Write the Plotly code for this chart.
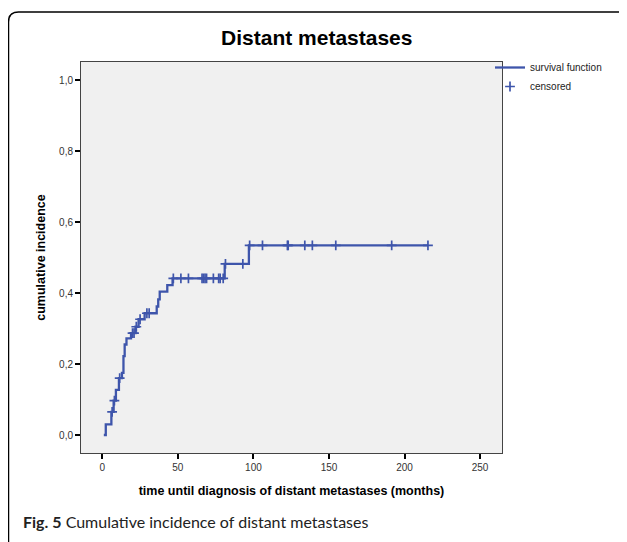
import numpy as np
import plotly.graph_objects as go

# ---- data ----
event_times = [1, 2.3, 6, 7.5, 9, 11, 13, 14, 14.8, 16, 19, 22, 24, 28, 36, 37, 38, 43, 46.5, 81, 97]
incidence = [0, 0.03, 0.065, 0.097, 0.127, 0.16, 0.175, 0.222, 0.255, 0.272, 0.287, 0.305, 0.326,
             0.343, 0.362, 0.382, 0.404, 0.422, 0.441, 0.482, 0.534]
censored_times = [6.5, 8, 11.5, 20, 21, 22.5, 25, 29.5, 31, 47, 52, 57, 66, 67, 68, 69, 73.5, 77, 78,
                  80, 81.5, 93, 97.5, 106, 122.5, 123, 134, 139, 154.5, 191.5, 215.5]
x_ticks = [0, 50, 100, 150, 200, 250]
y_ticks = [0.0, 0.2, 0.4, 0.6, 0.8, 1.0]
y_tick_labels = ["0,0", "0,2", "0,4", "0,6", "0,8", "1,0"]

# step line extends to the last follow-up time
end_time = max(censored_times)
step_x = event_times + [end_time]
step_y = incidence + [incidence[-1]]

# value of the step function at each censored time
idx = np.searchsorted(np.array(event_times), np.array(censored_times), side="right") - 1
cens_y = [incidence[i] for i in idx]

BLUE = "#3e55ab"
OFF = 8  # page body margin
W, H = 619, 534
# plot area in screen pixels: x 81..502, y 62..453
ML, MT = 81 - OFF, 62 - OFF
PW, PH = 502 - 81, 453 - 62
MR = W - ML - PW
MB = H - MT - PH


def px(x):
    return (x - OFF - ML) / PW


def py(y):
    return (MT + PH - (y - OFF)) / PH


fig = go.Figure()
fig.add_trace(go.Scatter(x=step_x, y=step_y, mode="lines", line=dict(color=BLUE, width=2.3, shape="hv"),
                         name="survival function"))
fig.add_trace(go.Scatter(x=censored_times, y=cens_y, mode="markers",
                         marker=dict(symbol="cross-thin", size=7, line=dict(color=BLUE, width=1.7), color=BLUE),
                         name="censored"))

# outer rounded frame
x0, y0 = px(8.5), py(12)
r, ry = 10 / PW, 10 / PH
x1, y1 = px(700), py(620)
path = f"M {x0},{y1} L {x0},{y0 - ry} Q {x0},{y0} {x0 + r},{y0} L {x1},{y0}"
fig.add_shape(type="path", path=path, xref="paper", yref="paper",
              line=dict(color="black", width=1.5), layer="below")

fig.update_layout(
    width=W, height=H,
    margin=dict(l=ML, r=MR, t=MT, b=MB),
    paper_bgcolor="white",
    plot_bgcolor="#f0f0f0",
    font=dict(family="Liberation Sans, Arial, sans-serif", color="black"),
    title=dict(text="<b>Distant metastases</b>", x=px(291), xanchor="center",
               y=1 - (38 - OFF) / H, yanchor="middle", font=dict(size=21, color="black")),
    showlegend=True,
    legend=dict(x=px(490), xanchor="left", y=py(53), yanchor="top", bgcolor="rgba(0,0,0,0)",
                font=dict(size=10, color="#222"), itemwidth=30, tracegroupgap=0),
    xaxis=dict(range=[-14.1, 264.5], tickvals=x_ticks, ticks="outside", ticklen=5, tickwidth=1.5,
               tickcolor="black", showline=True, mirror=True, linecolor="#444", linewidth=1,
               showgrid=False, zeroline=False, tickfont=dict(size=10, color="#333"),
               title=dict(text="<b>time until diagnosis of distant metastases (months)</b>",
                          font=dict(size=12.5), standoff=14)),
    yaxis=dict(range=[-0.0507, 1.0507], tickvals=y_ticks, ticktext=y_tick_labels, ticks="outside",
               ticklen=5, tickwidth=1.5, tickcolor="black", showline=True, mirror=True, linecolor="#444",
               linewidth=1, showgrid=False, zeroline=False, tickfont=dict(size=10, color="#333"),
               title=dict(text="<b>cumulative incidence</b>", font=dict(size=12.5), standoff=10)),
)

fig.add_annotation(text="<b>Fig. 5</b> Cumulative incidence of distant metastases", xref="paper", yref="paper",
                   x=px(21), y=py(521), xanchor="left", yanchor="middle", showarrow=False,
                   font=dict(family="Lato, Open Sans, sans-serif", size=16, color="#222"))

fig.write_html("out.html")
